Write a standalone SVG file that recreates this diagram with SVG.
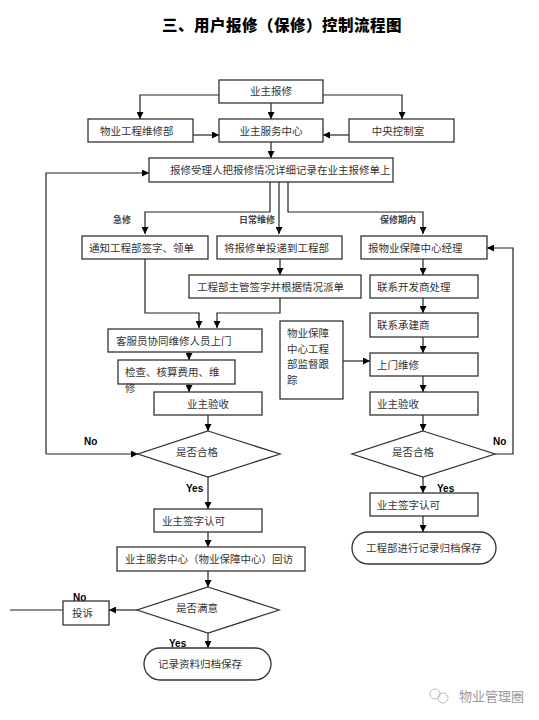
<svg xmlns="http://www.w3.org/2000/svg" width="539" height="720" viewBox="0 0 539 720">
<defs>
<marker id="ah" markerWidth="7" markerHeight="7" refX="7" refY="3.5" orient="auto" markerUnits="userSpaceOnUse">
<path d="M0,0 L7,3.5 L0,7 z" fill="#000"/>
</marker>
<style>
.b{fill:#fff;stroke:#333;stroke-width:1.3}
.t{font-family:"Noto Sans CJK SC","Noto Sans",sans-serif;font-size:10.5px;fill:#333}
.c{text-anchor:middle}
.l{fill:none;stroke:#222;stroke-width:1.2}
.a{fill:none;stroke:#222;stroke-width:1.2;marker-end:url(#ah)}
.lab{font-family:"Noto Sans CJK SC",sans-serif;font-size:9px;font-weight:700;fill:#444}
.yn{font-family:"Liberation Sans",Arial,sans-serif;font-size:10px;font-weight:700;fill:#000}
</style>
</defs>
<rect width="539" height="720" fill="#fff"/>
<text x="282" y="31" text-anchor="middle" style="font-family:'Noto Sans CJK SC',sans-serif;font-size:15.5px;font-weight:900;letter-spacing:0.5px;fill:#000">三、用户报修（保修）控制流程图</text>

<g id="connectors">
<path class="a" d="M271,103 V119"/>
<path class="a" d="M219,95 H140 V119"/>
<path class="a" d="M323,95 H402 V119"/>
<path class="a" d="M193,135 H219"/>
<path class="a" d="M349,135 H323"/>
<path class="a" d="M271,142 V158"/>
<path class="a" d="M270,182 V212 H145 V234"/>
<path class="a" d="M279,182 V234"/>
<path class="a" d="M288,182 V212 H423 V234"/>
<path class="a" d="M280,259 V275"/>
<path class="a" d="M145,259 V313 H199 V328"/>
<path class="a" d="M280,298 V313 H217 V328"/>
<path class="a" d="M189,352 V360"/>
<path class="a" d="M189,384 V392"/>
<path class="a" d="M208,415 V431"/>
<path class="a" d="M46,454 V173 H149"/>
<path class="a" d="M46,454 H138"/>
<path class="a" d="M208,477 V509"/>
<path class="a" d="M208,532 V547"/>
<path class="a" d="M208,571 V587"/>
<path class="a" d="M137,610 H109"/>
<path class="l" d="M63,610 H10"/>
<path class="a" d="M208,633 V648"/>
<path class="a" d="M423,259 V275"/>
<path class="a" d="M423,298 V313"/>
<path class="a" d="M423,337 V353"/>
<path class="a" d="M423,376 V392"/>
<path class="a" d="M423,415 V431"/>
<path class="a" d="M495,454 H513 V248 H487"/>
<path class="a" d="M423,477 V493"/>
<path class="a" d="M423,516 V532"/>
<path class="a" d="M343,361 H370"/>
</g>

<g id="labels">
<text class="lab" x="113" y="223">急修</text>
<text class="lab" x="239" y="223">日常维修</text>
<text class="lab" x="380" y="223">保修期内</text>
<text class="yn" x="84" y="445">No</text>
<text class="yn" x="186" y="492">Yes</text>
<text class="yn" x="493" y="445">No</text>
<text class="yn" x="437" y="492">Yes</text>
<text class="yn" x="73" y="601">No</text>
<text class="yn" x="169" y="647">Yes</text>
</g>

<g id="n1"><rect class="b" x="219" y="80" width="104" height="23"/><text class="t c" x="271" y="95">业主报修</text></g>
<g id="n2"><rect class="b" x="88" y="119" width="105" height="23"/><text class="t" x="100" y="134.5">物业工程维修部</text></g>
<g id="n3"><rect class="b" x="219" y="119" width="104" height="23"/><text class="t c" x="271" y="134.5">业主服务中心</text></g>
<g id="n4"><rect class="b" x="349" y="119" width="105" height="23"/><text class="t c" x="398" y="134.5">中央控制室</text></g>
<g id="n5"><rect class="b" x="149" y="158" width="244" height="24"/><text class="t" x="170" y="174">报修受理人把报修情况详细记录在业主报修单上</text></g>
<g id="n6"><rect class="b" x="82" y="236" width="126" height="23"/><text class="t" x="89" y="251.5">通知工程部签字、领单</text></g>
<g id="n7"><rect class="b" x="217" y="236" width="125" height="23"/><text class="t" x="224" y="251.5">将报修单投递到工程部</text></g>
<g id="n8"><rect class="b" x="361" y="236" width="126" height="23"/><text class="t" x="368" y="251.5">报物业保障中心经理</text></g>
<g id="n9"><rect class="b" x="189" y="275" width="172" height="23"/><text class="t" x="197" y="290.5">工程部主管签字并根据情况派单</text></g>
<g id="n10"><rect class="b" x="370" y="275" width="108" height="23"/><text class="t" x="377" y="290.5">联系开发商处理</text></g>
<g id="n11"><rect class="b" x="370" y="313" width="108" height="24"/><text class="t" x="377" y="329">联系承建商</text></g>
<g id="n12"><rect class="b" x="108" y="329" width="154" height="23"/><text class="t" x="116" y="344.5">客服员协同维修人员上门</text></g>
<g id="n13"><rect class="b" x="280" y="321" width="63" height="78"/>
<text class="t" x="287" y="337">物业保障</text><text class="t" x="287" y="352.5">中心工程</text><text class="t" x="287" y="368">部监督跟</text><text class="t" x="287" y="383.5">踪</text></g>
<g id="n14"><rect class="b" x="370" y="353" width="108" height="23"/><text class="t" x="377" y="368.5">上门维修</text></g>
<g id="n15"><rect class="b" x="118" y="360" width="117" height="24"/><text class="t" x="125" y="376">检查、核算费用、维</text><text class="t" x="125" y="392">修</text></g>
<g id="n16"><rect class="b" x="154" y="392" width="108" height="23"/><text class="t" x="187" y="407.5">业主验收</text></g>
<g id="n17"><rect class="b" x="370" y="392" width="108" height="23"/><text class="t" x="377" y="407.5">业主验收</text></g>
<g id="n18"><polygon class="b" points="208,431 280,454 208,477 138,454"/><text class="t" x="176" y="456">是否合格</text></g>
<g id="n19"><polygon class="b" points="423,431 495,454 423,477 352,454"/><text class="t" x="392" y="456">是否合格</text></g>
<g id="n20"><rect class="b" x="154" y="509" width="108" height="23"/><text class="t" x="162" y="524.5">业主签字认可</text></g>
<g id="n21"><rect class="b" x="370" y="493" width="108" height="23"/><text class="t" x="377" y="508.5">业主签字认可</text></g>
<g id="n22"><rect class="b" x="352" y="532" width="144" height="32" rx="16" ry="16"/><text class="t" x="366" y="552">工程部进行记录归档保存</text></g>
<g id="n23"><rect class="b" x="117" y="547" width="188" height="24"/><text class="t" x="125" y="563">业主服务中心（物业保障中心）回访</text></g>
<g id="n24"><polygon class="b" points="208,587 279,610 208,633 137,610"/><text class="t" x="176" y="612">是否满意</text></g>
<g id="n25"><rect class="b" x="63" y="601" width="46" height="24"/><text class="t" x="72" y="617">投诉</text></g>
<g id="n26"><rect class="b" x="144" y="648" width="127" height="32" rx="16" ry="16"/><text class="t" x="158" y="668">记录资料归档保存</text></g>

<g id="watermark">
<circle cx="435" cy="694" r="5" fill="none" stroke="#bbb" stroke-width="1"/>
<circle cx="443" cy="698" r="5" fill="none" stroke="#bbb" stroke-width="1"/>
<text x="459" y="701" style="font-family:'Noto Sans CJK SC',sans-serif;font-size:13px;fill:#999">物业管理圈</text>
</g>
</svg>
